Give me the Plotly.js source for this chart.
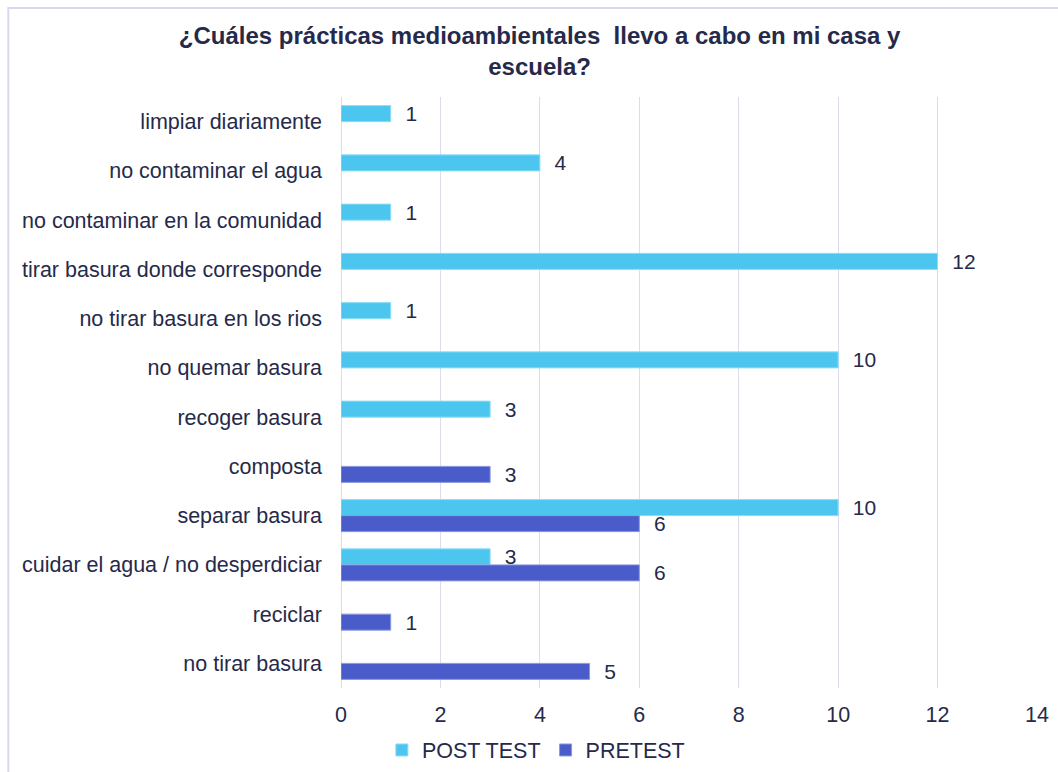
<!DOCTYPE html>
<html>
<head>
<meta charset="utf-8">
<script src="https://cdn.plot.ly/plotly-3.0.1.min.js"></script>
<style>html,body{margin:0;padding:0;background:#fff;}#chart{width:1058px;height:772px;}</style>
</head>
<body>
<div id="chart"></div>
<script>
const categories = [
  "limpiar diariamente",
  "no contaminar el agua",
  "no contaminar en la comunidad",
  "tirar basura donde corresponde",
  "no tirar basura en los rios",
  "no quemar basura",
  "recoger basura",
  "composta",
  "separar basura",
  "cuidar el agua / no desperdiciar",
  "reciclar",
  "no tirar basura"
];
const postTest = [1, 4, 1, 12, 1, 10, 3, null, 10, 3, null, null];
const preTest  = [null, null, null, null, null, null, null, 3, 6, 6, 1, 5];
const seriesNames = ["POST TEST", "PRETEST"];
const xTicks = [0, 2, 4, 6, 8, 10, 12, 14];

const textColor = "#262A4A";
const fnt = {family: "Liberation Sans, Arial, sans-serif", size: 21.5, color: textColor};
const lblFnt = {family: "Liberation Sans, Arial, sans-serif", size: 21, color: textColor};
const pad = "\u00a0\u00a0";

const traces = [
  {
    type: "bar", orientation: "h", name: seriesNames[0],
    y: categories, x: postTest,
    text: postTest.map(v => v == null ? "" : pad + String(v)),
    textposition: "outside", cliponaxis: false, constraintext: "none",
    textfont: lblFnt, outsidetextfont: lblFnt,
    marker: {color: "#4CC6EF", line: {color: "#8BDDF7", width: 1}},
    hoverinfo: "x+y"
  },
  {
    type: "bar", orientation: "h", name: seriesNames[1],
    y: categories, x: preTest,
    text: preTest.map(v => v == null ? "" : pad + String(v)),
    textposition: "outside", cliponaxis: false, constraintext: "none",
    textfont: lblFnt, outsidetextfont: lblFnt,
    marker: {color: "#4A5CC9", line: {color: "#8C98DE", width: 1}},
    hoverinfo: "x+y"
  }
];

const layout = {
  width: 1058, height: 772,
  paper_bgcolor: "#fff", plot_bgcolor: "#fff",
  font: fnt,
  title: {
    text: "<b>¿Cuáles prácticas medioambientales  llevo a cabo en mi casa y<br>escuela?</b>",
    font: {family: "Liberation Sans, Arial, sans-serif", size: 24, color: textColor},
    x: 0.51, xanchor: "center", y: 0.943, yanchor: "top"
  },
  barmode: "group",
  bargap: 0.35,
  bargroupgap: 0,
  margin: {l: 341, r: 21, t: 97, b: 84},
  xaxis: {
    range: [0, 14], tickvals: xTicks, ticktext: xTicks.map(String),
    showgrid: true, gridcolor: "#DCDCEE", gridwidth: 1,
    zeroline: true, zerolinecolor: "#DCDCEE", zerolinewidth: 1,
    showline: false, ticks: "", tickfont: fnt, fixedrange: true,
    ticklabelstandoff: 11, automargin: false
  },
  yaxis: {
    autorange: "reversed", type: "category",
    showgrid: false, zeroline: false, showline: false,
    ticks: "", tickfont: fnt, ticklabelstandoff: 18, automargin: false
  },
  showlegend: true,
  legend: {
    orientation: "h", x: 0.28, xanchor: "center",
    yref: "container", y: 0.0285, yanchor: "middle",
    bgcolor: "rgba(0,0,0,0)",
    font: fnt, traceorder: "normal", itemwidth: 30
  },
  shapes: [
    {type: "rect", xref: "paper", yref: "paper",
     x0: -0.478, x1: 1.1, y0: -0.2, y1: 1.1506,
     line: {color: "#D8D8F0", width: 2}, fillcolor: "rgba(0,0,0,0)", layer: "below"}
  ]
};

Plotly.newPlot("chart", traces, layout, {displayModeBar: false, staticPlot: true});
</script>
</body>
</html>
